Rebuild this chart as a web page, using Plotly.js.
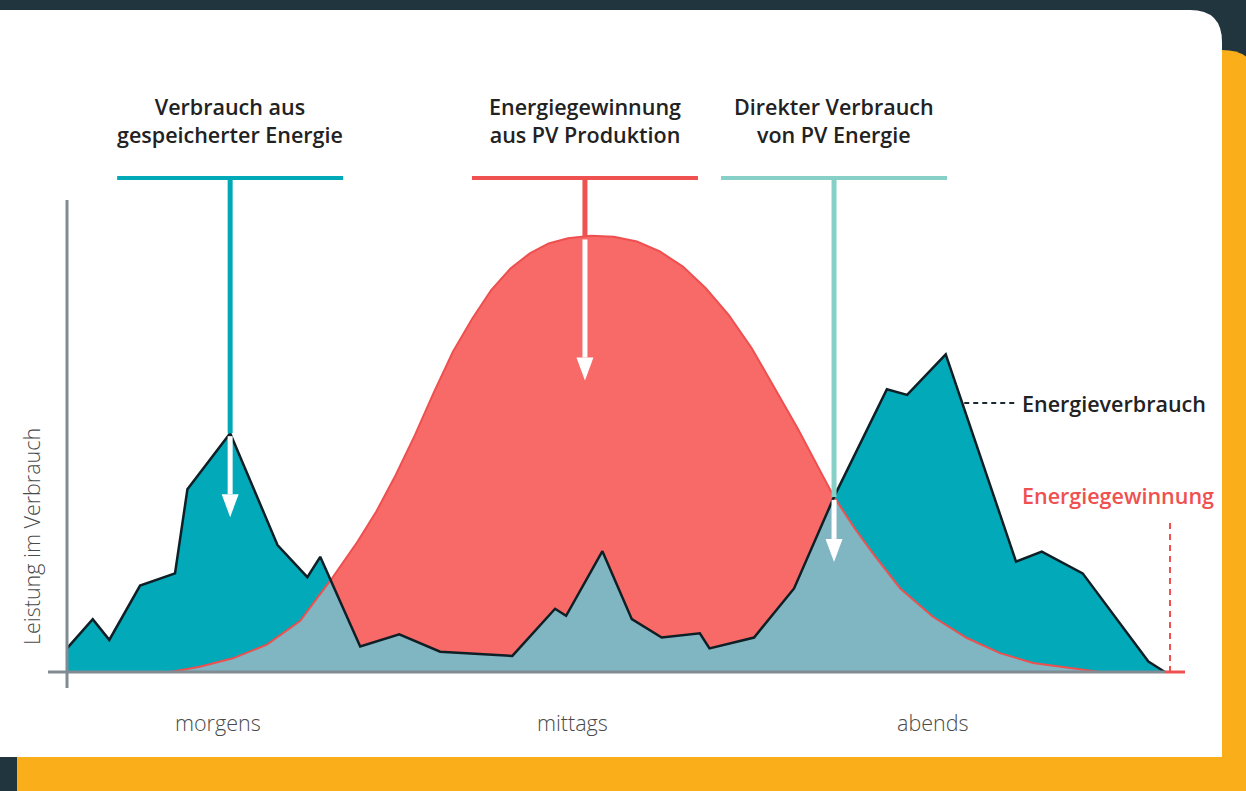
<!DOCTYPE html>
<html>
<head>
<meta charset="utf-8">
<script src="https://cdn.plot.ly/plotly-3.0.1.min.js"></script>
<style>
html,body{margin:0;padding:0;background:#21353f;}
#chart{width:1246px;height:791px;}
</style>
</head>
<body>
<div id="chart"></div>
<script>
// ---------- data (hours of day, relative power 0..100) ----------
const consHours = [0,0.56,0.92,1.59,2.35,2.62,3.55,4.58,5.23,5.51,6.38,7.23,8.12,9.69,10.62,10.86,11.65,12.29,12.94,13.77,13.98,14.95,15.82,16.69,17.84,18.28,19.12,20.65,21.21,22.10,23.53,23.89];
const consumption = [5.0,11.2,6.8,18.3,20.9,38.7,50.6,26.9,20.1,24.4,5.4,8.0,4.3,3.4,13.4,11.9,25.6,11.2,7.3,8.2,5.0,7.3,17.7,37.1,59.9,58.7,67.3,23.4,25.5,20.9,2.2,0];

const pvHours = [0,2.24,2.89,3.61,4.35,5.07,5.74,6.32,6.73,7.15,7.57,7.99,8.40,8.82,9.23,9.65,10.07,10.48,10.90,11.40,11.90,12.40,12.90,13.40,13.90,14.40,14.90,15.40,15.90,16.40,16.69,17.14,17.56,18.13,18.84,19.58,20.30,21.02,22.11,22.48,24];
const pvProduction = [0,0,1.1,2.9,5.8,10.8,19.5,27.6,34.0,41.7,50.2,59.4,67.9,74.9,80.9,85.5,88.7,90.8,91.9,92.4,92.2,91.2,89.1,85.9,81.3,75.6,68.6,60.1,51.6,42.4,37.1,30.4,24.8,17.7,11.7,7.2,4.0,1.9,0.4,0,0];

const tickHours = [3.29, 10.99, 18.84];
const tickLabels = ["morgens", "mittags", "abends"];

const calloutHours = [3.55, 11.27, 16.69];
const calloutTexts = ["Verbrauch aus<br>gespeicherter Energie", "Energiegewinnung<br>aus PV Produktion", "Direkter Verbrauch<br>von PV Energie"];
const calloutColors = ["#00a9b8", "#ef5050", "#86d0c7"];

// ---------- geometry helpers ----------
const W = 1246, H = 791;
const SX = 45.958, SY = 4.72;      // px per hour, px per unit
const X0 = 67, Y0 = 672;           // pixel of origin
const xr = [-X0 / SX, (W - X0) / SX];
const yr = [(Y0 - H) / SY, Y0 / SY];
const dxp = p => p / SX;
const dyp = p => p / SY;
const P = (x, y) => (x / W).toFixed(5) + "," + (1 - y / H).toFixed(5);
const BOLD = {family: "'Open Sans', Roboto, sans-serif", size: 21.5, color: "#222222", weight: 600};
const LIGHT = {family: "'Open Sans', Roboto, sans-serif", size: 21.5, color: "#4a4a4a", weight: 300};

function interp(xs, ys, x) {
  if (x < xs[0] || x > xs[xs.length - 1]) return 0;
  for (let i = 1; i < xs.length; i++) {
    if (x <= xs[i]) {
      const t = (x - xs[i - 1]) / (xs[i] - xs[i - 1]);
      return ys[i - 1] + t * (ys[i] - ys[i - 1]);
    }
  }
  return ys[0];
}

// overlap (minimum of both curves)
const allX = Array.from(new Set(consHours.concat(pvHours))).sort((a, b) => a - b);
const ovX = [], ovY = [];
for (let i = 0; i < allX.length; i++) {
  const a = allX[i];
  const ca = interp(consHours, consumption, a), pa = interp(pvHours, pvProduction, a);
  ovX.push(a); ovY.push(Math.min(ca, pa));
  if (i < allX.length - 1) {
    const b = allX[i + 1];
    const cb = interp(consHours, consumption, b), pb = interp(pvHours, pvProduction, b);
    const fa = ca - pa, fb = cb - pb;
    if (fa * fb < 0) {
      const t = fa / (fa - fb);
      ovX.push(a + t * (b - a)); ovY.push(ca + t * (cb - ca));
    }
  }
}

const traces = [
  {x: pvHours, y: pvProduction, mode: "lines", fill: "tozeroy", fillcolor: "#f76a68", line: {width: 0, color: "#f76a68"}, hoverinfo: "skip"},
  {x: consHours, y: consumption, mode: "lines", fill: "tozeroy", fillcolor: "#02a9b8", line: {width: 0, color: "#02a9b8"}, hoverinfo: "skip"},
  {x: ovX, y: ovY, mode: "lines", fill: "tozeroy", fillcolor: "#7fb6c2", line: {width: 0, color: "#7fb6c2"}, hoverinfo: "skip"},
  {x: pvHours, y: pvProduction, mode: "lines", line: {width: 2, color: "#ee4f4f"}, hoverinfo: "skip"},
  {x: consHours, y: consumption, mode: "lines", line: {width: 2.5, color: "#0f1f26"}, hoverinfo: "skip"}
];

const shapes = [];
// background panels
shapes.push({type: "path", xref: "paper", yref: "paper", layer: "below", line: {width: 0}, fillcolor: "#f9ae1a",
  path: "M" + P(17, 50) + " L" + P(1222, 50) + " Q" + P(1258, 50) + " " + P(1258, 86) + " L" + P(1258, 795) + " L" + P(17, 795) + " Z"});
shapes.push({type: "path", xref: "paper", yref: "paper", layer: "below", line: {width: 0}, fillcolor: "#ffffff",
  path: "M" + P(-2, 10) + " L" + P(1190, 10) + " Q" + P(1222, 10) + " " + P(1222, 42) + " L" + P(1222, 757) + " L" + P(-2, 757) + " Z"});

// axes
const lastH = consHours[consHours.length - 1];
shapes.push({type: "line", xref: "x", yref: "y", layer: "above", x0: 0, x1: 0, y0: dyp(-16), y1: dyp(472), line: {color: "#808b93", width: 3}});
shapes.push({type: "line", xref: "x", yref: "y", layer: "above", x0: dxp(-19), x1: lastH, y0: 0, y1: 0, line: {color: "#808b93", width: 3}});
shapes.push({type: "line", xref: "x", yref: "y", layer: "above", x0: lastH, x1: 24 + dxp(15), y0: 0, y1: 0, line: {color: "#ef5050", width: 3}});
shapes.push({type: "line", xref: "x", yref: "y", layer: "above", x0: 24, x1: 24, y0: 0, y1: dyp(154), line: {color: "#ef5050", width: 2, dash: "6px,5px"}});

// dashed leader for Energieverbrauch (starts on the falling evening slope)
const leaderY = dyp(Y0 - 403);
let leaderX = 0;
for (let i = 1; i < consHours.length; i++) {
  if (consHours[i - 1] > 19 && consumption[i - 1] >= leaderY && consumption[i] <= leaderY) {
    const t = (consumption[i - 1] - leaderY) / (consumption[i - 1] - consumption[i]);
    leaderX = consHours[i - 1] + t * (consHours[i] - consHours[i - 1]);
    break;
  }
}
shapes.push({type: "line", xref: "x", yref: "y", layer: "above", x0: leaderX + dxp(2), x1: leaderX + dxp(56), y0: leaderY, y1: leaderY, line: {color: "#1a2a30", width: 2, dash: "5px,4px"}});

// callouts
const barY = dyp(Y0 - 178);
const arrowLen = [84, 144, 65];
const annotations = [];
calloutHours.forEach((h, i) => {
  const endY = i === 0 ? interp(consHours, consumption, h) : interp(pvHours, pvProduction, h);
  const col = calloutColors[i];
  shapes.push({type: "line", xref: "x", yref: "y", layer: "above", x0: h - dxp(113), x1: h + dxp(113), y0: barY, y1: barY, line: {color: col, width: 4}});
  shapes.push({type: "line", xref: "x", yref: "y", layer: "above", x0: h, x1: h, y0: barY + dyp(2), y1: endY, line: {color: col, width: 5}});
  const tipY = endY - dyp(arrowLen[i]);
  const headY = tipY + dyp(23);
  shapes.push({type: "line", xref: "x", yref: "y", layer: "above", x0: h, x1: h, y0: endY - dyp(3), y1: headY, line: {color: "#ffffff", width: 5}});
  shapes.push({type: "path", xref: "x", yref: "y", layer: "above", line: {width: 0}, fillcolor: "#ffffff",
    path: "M" + (h - dxp(8.5)) + "," + headY + " L" + (h + dxp(8.5)) + "," + headY + " L" + h + "," + tipY + " Z"});
  annotations.push({xref: "x", yref: "y", x: h, y: dyp(Y0 - 120.5), text: calloutTexts[i], showarrow: false,
    xanchor: "center", yanchor: "middle", align: "center", font: BOLD});
});

// side labels
annotations.push({xref: "x", yref: "y", x: dxp(1020 - X0), y: leaderY, text: "Energieverbrauch", showarrow: false,
  xanchor: "left", yanchor: "middle", font: BOLD});
annotations.push({xref: "x", yref: "y", x: dxp(1020 - X0), y: dyp(Y0 - 495), text: "Energiegewinnung", showarrow: false,
  xanchor: "left", yanchor: "middle", font: Object.assign({}, BOLD, {color: "#ef5050"})});

// x category labels
tickHours.forEach((h, i) => {
  annotations.push({xref: "x", yref: "y", x: h, y: dyp(Y0 - 722), text: tickLabels[i], showarrow: false,
    xanchor: "center", yanchor: "middle", font: LIGHT});
});
// y axis title
annotations.push({xref: "x", yref: "y", x: dxp(31 - X0), y: dyp(Y0 - 537), text: "Leistung im Verbrauch", showarrow: false,
  textangle: -90, xanchor: "center", yanchor: "middle", font: LIGHT});

const layout = {
  width: W, height: H,
  margin: {l: 0, r: 0, t: 0, b: 0, pad: 0},
  paper_bgcolor: "#21353f",
  plot_bgcolor: "rgba(0,0,0,0)",
  showlegend: false,
  xaxis: {range: xr, visible: false, fixedrange: true},
  yaxis: {range: yr, visible: false, fixedrange: true},
  shapes: shapes,
  annotations: annotations
};

Plotly.newPlot("chart", traces, layout, {staticPlot: true, displayModeBar: false});
</script>
</body>
</html>
